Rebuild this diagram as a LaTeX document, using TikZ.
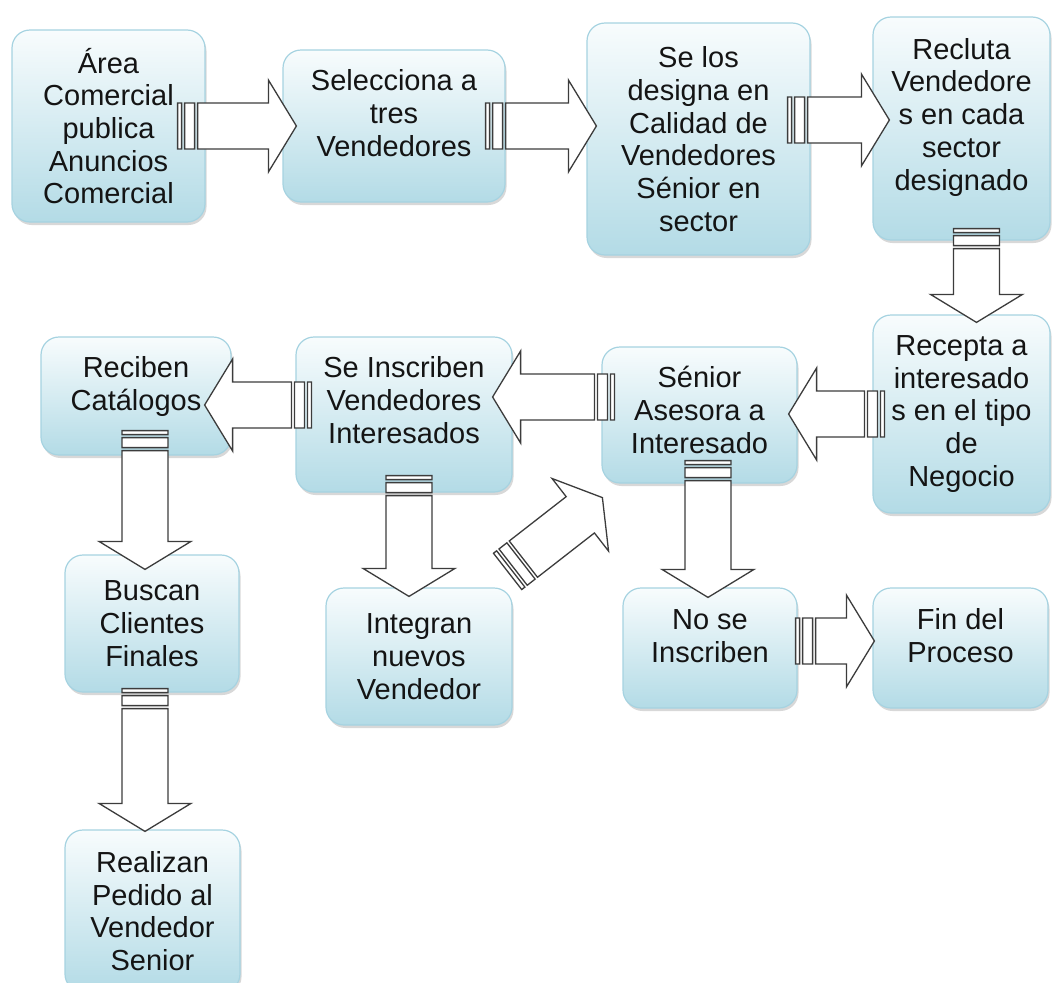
\documentclass[tikz,border=0pt]{standalone}
\usepackage{fontspec}
\setmainfont{Liberation Sans}
\usetikzlibrary{calc,shadows}
\definecolor{boxtop}{HTML}{F8FCFD}
\definecolor{boxbot}{HTML}{B3DBE6}
\definecolor{boxline}{HTML}{A6D3E1}
\definecolor{arrowline}{HTML}{3C3C3C}
\tikzset{
  box/.style={rounded corners=18pt, draw=boxline, line width=1.2pt,
    top color=boxtop, bottom color=boxbot,
    drop shadow={opacity=0.3, shadow xshift=1.5pt, shadow yshift=-3pt},
    align=center, text=black!92, inner sep=2pt,
    font=\fontsize{29}{32.7}\selectfont},
  lift/.style={text height=#1, text depth=0pt},
  stripe/.style={draw=arrowline, line width=1.3pt, fill=white, line join=miter}
}
\newcommand{\stripearrow}[2]{%
  \path (#1) coordinate (sa) (#2) coordinate (sb);
  \draw[stripe]
    ($(sa)!23pt!90:(sb)$) -- ($(sa)!4pt!(sb)!23pt!90:(sb)$) -- ($(sa)!4pt!(sb)!23pt!-90:(sb)$) -- ($(sa)!23pt!-90:(sb)$) -- cycle
    ($(sa)!7pt!(sb)!23pt!90:(sb)$) -- ($(sa)!17pt!(sb)!23pt!90:(sb)$) -- ($(sa)!17pt!(sb)!23pt!-90:(sb)$) -- ($(sa)!7pt!(sb)!23pt!-90:(sb)$) -- cycle
    ($(sa)!20pt!(sb)!23pt!90:(sb)$) -- ($(sb)!28pt!(sa)!23pt!-90:(sa)$) -- ($(sb)!28pt!(sa)!46pt!-90:(sa)$) -- (sb)
      -- ($(sb)!28pt!(sa)!46pt!90:(sa)$) -- ($(sb)!28pt!(sa)!23pt!90:(sa)$) -- ($(sa)!20pt!(sb)!23pt!-90:(sb)$) -- cycle;}
\begin{document}
\begin{tikzpicture}[x=1pt,y=-1pt]
  \path[use as bounding box, fill=white] (0,0) rectangle (1053,983);
  \node[box, minimum width=193pt, minimum height=192pt] (area) at (108.5,126) {Área\\Comercial\\publica\\Anuncios\\Comercial};
  \node[box, lift=60pt, minimum width=222pt, minimum height=152pt] (sel) at (394,126) {Selecciona a\\tres\\Vendedores};
  \node[box, minimum width=223pt, minimum height=232pt] (selos) at (698.5,139) {Se los\\designa en\\Calidad de\\Vendedores\\Sénior en\\sector};
  \node[box, lift=123pt, minimum width=177pt, minimum height=223pt] (recluta) at (961.5,128.5) {Recluta\\Vendedore\\s en cada\\sector\\designado};
  \node[box, minimum width=177pt, minimum height=198pt] (recepta) at (961.5,414) {Recepta a\\interesado\\s en el tipo\\de\\Negocio};
  \node[box, lift=76pt, minimum width=195pt, minimum height=136pt] (senior) at (699.5,415) {Sénior\\Asesora a\\Interesado};
  \node[box, lift=57pt, minimum width=216pt, minimum height=155pt] (seins) at (404,414.5) {Se Inscriben\\Vendedores\\Interesados};
  \node[box, lift=28pt, minimum width=190pt, minimum height=118pt] (reciben) at (136,396) {Reciben\\Catálogos};
  \node[box, minimum width=174pt, minimum height=137pt] (buscan) at (152,623.5) {Buscan\\Clientes\\Finales};
  \node[box, minimum width=186pt, minimum height=137pt] (integran) at (419,656.5) {Integran\\nuevos\\Vendedor};
  \node[box, lift=28pt, minimum width=174pt, minimum height=120pt] (nose) at (710,648) {No se\\Inscriben};
  \node[box, lift=28pt, minimum width=175pt, minimum height=120pt] (fin) at (960.5,648) {Fin del\\Proceso};
  \node[box, minimum width=175pt, minimum height=162pt] (realizan) at (152.5,911) {Realizan\\Pedido al\\Vendedor\\Senior};

  \stripearrow{$(area.east)+(-28pt,0pt)$}{$(area.east -| sel.west)+(14pt,0pt)$}
  \stripearrow{$(sel.east)+(-20pt,0pt)$}{$(sel.east -| selos.west)+(10pt,0pt)$}
  \stripearrow{$(selos.east)+(-23pt,19pt)$}{$(selos.east -| recluta.west)+(17pt,19pt)$}
  \stripearrow{$(recluta.south)+(15pt,12pt)$}{$(recepta.north)+(15pt,-8pt)$}
  \stripearrow{$(recepta.west)+(12pt,0pt)$}{$(recepta.west -| senior.east)+(-9pt,0pt)$}
  \stripearrow{$(senior.west)+(13pt,18pt)$}{$(senior.west -| seins.east)+(-20pt,18pt)$}
  \stripearrow{$(seins.west)+(16pt,9.5pt)$}{$(seins.west -| reciben.east)+(-27pt,9.5pt)$}
  \stripearrow{$(reciben.south)+(9pt,25pt)$}{$(buscan.north)+(-7pt,-15pt)$}
  \stripearrow{$(seins.south)+(5pt,17pt)$}{$(integran.north)+(-10pt,-9pt)$}
  \stripearrow{$(integran.north east)+(-5pt,16pt)$}{$(senior.south west)+(1pt,-14pt)$}
  \stripearrow{$(senior.south)+(8.5pt,23pt)$}{$(nose.north)+(-2pt,-10pt)$}
  \stripearrow{$(nose.east)+(-2pt,7pt)$}{$(nose.east -| fin.west)+(2pt,7pt)$}
  \stripearrow{$(buscan.south)+(-7pt,4pt)$}{$(realizan.north)+(-7.5pt,-2pt)$}
\end{tikzpicture}
\end{document}
